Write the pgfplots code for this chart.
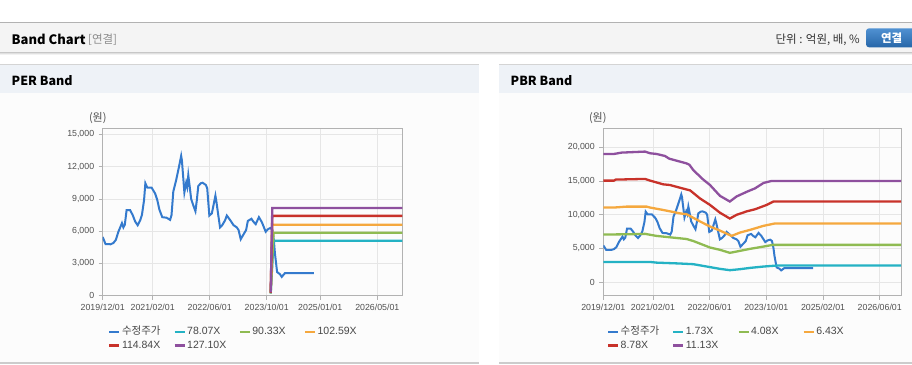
\documentclass[border=0pt]{standalone}
\usepackage{pgfplots}
\pgfplotsset{compat=1.18}
\usepackage{pgfplotstable}
\usepackage{fontspec}
\setmainfont{Liberation Sans}
\newfontfamily\kr{Noto Sans CJK KR}
\definecolor{cPrice}{RGB}{52,122,205}
\definecolor{cTeal}{RGB}{36,178,196}
\definecolor{cGreen}{RGB}{143,187,82}
\definecolor{cOrange}{RGB}{245,168,62}
\definecolor{cRed}{RGB}{200,50,42}
\definecolor{cPurple}{RGB}{142,80,158}
\definecolor{cGrid}{RGB}{230,230,230}
\definecolor{cFrame}{RGB}{178,178,178}
\definecolor{cTick}{RGB}{80,80,80}
\definecolor{cHead}{RGB}{244,244,244}
\definecolor{cPanelHead}{RGB}{238,242,247}
\definecolor{cPanelBody}{RGB}{252,252,252}

\pgfplotstableread{
m v
0 5450
0.8 4800
2.2 4780
3.0 4900
3.7 5200
4.4 5950
5.1 6500
5.4 6750
5.8 6350
6.2 6600
6.7 7950
7.7 7950
8.4 7500
9.1 6900
9.8 6550
10.5 7000
11.0 7500
11.6 8900
11.96 10450
12.5 10050
13.7 10050
14.7 9500
15.3 8900
15.9 8000
16.7 7300
17.9 7250
18.9 7050
19.3 7500
19.8 9700
20.6 10750
21.4 12000
22.0 13000
22.2 12600
22.6 10900
22.9 9600
23.4 10500
23.7 10100
24.0 11200
24.3 10400
24.8 9000
25.4 8400
26.0 7850
26.4 8900
26.8 10200
27.5 10450
28.0 10500
28.9 10300
29.3 10000
29.9 7450
30.6 7650
31.0 8300
31.6 9300
31.9 8700
32.4 7500
32.9 6350
33.5 6550
34.3 7000
34.8 7450
35.8 7000
36.7 6550
37.6 6350
38.1 6100
38.7 5250
39.4 5650
40.2 6100
40.7 6950
41.7 7150
42.2 6900
42.9 6650
43.8 7300
44.6 6850
45.7 5950
46.4 6200
47.1 6300
47.6 6100
48.0 5100
48.3 3900
48.9 2200
49.7 2000
50.2 1750
51.1 2100
59.2 2100
}\price

\pgfplotsset{bandaxis/.style={
  scale only axis, height=167.4pt,
  xmin=0, xmax=84,
  axis line style={cFrame, line width=0.9pt},
  grid=major, major grid style={cGrid, line width=0.7pt},
  tick style={cFrame, line width=0.7pt},
  tick align=outside, major tick length=4pt,
  xtick pos=bottom, ytick pos=left,
  ticklabel style={font=\fontsize{8.8}{10}\selectfont, text=cTick},
  x tick label style={yshift=-1pt},
  y tick label style={xshift=-1pt},
  /pgf/number format/assume math mode=true,
  /pgf/number format/1000 sep={,},
  scaled y ticks=false,
  legend columns=4,
  legend cell align=left,
  legend style={draw=none, fill=none, inner sep=0pt, outer sep=0pt,
    at={(axis description cs:0,0)}, anchor=north west,
    font=\fontsize{10.5}{12}\selectfont, text=black!72,
    /tikz/column sep=0pt,
    nodes={inner sep=1.5pt, text height=8pt, text depth=2.5pt, text width=50pt, align=left}},
  legend image code/.code={\draw[#1,line width=2.2pt] (0pt,0pt) -- (10pt,0pt);},
  every axis plot/.append style={line width=2.3pt, mark=none},
}}

\begin{document}
\begin{tikzpicture}
\begin{scope}[x=1pt,y=-1pt]
\fill[white] (0,0) rectangle (912,364);
% header bar
\fill[cHead] (0,22) rectangle (912,52);
\draw[black!30, line width=1.4pt] (0,22.3) -- (912,22.3);
\draw[black!22, line width=1pt] (0,52.5) -- (912,52.5);
\draw[black!12, line width=1pt] (0,53.5) -- (912,53.5);
\draw[black!5, line width=1pt] (0,54.5) -- (912,54.5);
% panels
\foreach \a/\b in {0/479,499/912}{
  \fill[cPanelHead] (\a,64.5) rectangle (\b,92.5);
  \draw[black!17, line width=1.2pt] (\a,64.6) -- (\b,64.6);
  \fill[cPanelBody] (\a,92.5) rectangle (\b,362);
  \fill[black!20] (\a,362.2) rectangle (\b,364);
}
\end{scope}

\begin{axis}[bandaxis, width=299.6pt, at={(102.7pt,-295.7pt)}, anchor=south west,
  ymin=0, ymax=15560, ytick={0,3000,...,15000},
  xtick={0,14,30,46,61,77},
  xticklabels={2019/12/01,2021/02/01,2022/06/01,2023/10/01,2025/01/01,2026/05/01},
  legend style={xshift=5.6pt, yshift=-29.5pt},
  legend entries={{\kr 수정주가},78.07X,90.33X,102.59X,114.84X,127.10X}]
\addplot[cPrice, line width=2pt] table[x=m,y=v] {\price};
\addplot[cTeal] coordinates {(47.1,200) (47.9,5100) (84,5100)};
\addplot[cGreen] coordinates {(47.1,220) (47.9,5850) (84,5850)};
\addplot[cOrange] coordinates {(47.1,250) (47.55,6600) (84,6600)};
\addplot[cRed] coordinates {(47.1,270) (47.55,7420) (84,7420)};
\addplot[cPurple] coordinates {(47.1,300) (47.55,8150) (84,8150)};
\end{axis}

\begin{axis}[bandaxis, width=297.7pt, at={(603.3pt,-295.7pt)}, anchor=south west,
  ymin=-2000, ymax=22800, ytick={0,5000,...,20000},
  xtick={0,14,30,46,62,78},
  xticklabels={2019/12/01,2021/02/01,2022/06/01,2023/10/01,2025/02/01,2026/06/01},
  legend style={xshift=3.7pt, yshift=-29.5pt},
  legend entries={{\kr 수정주가},1.73X,4.08X,6.43X,8.78X,11.13X}]
\addplot[cPrice, line width=2pt] table[x=m,y=v] {\price};
\addplot[cTeal] coordinates {(0,3000)(13.2,3000)(15,2900)(21.6,2770)(25.4,2670)(29.2,2320)(32.9,1980)(35.7,1780)(38.6,1930)(41.4,2120)(45.2,2320)(49,2470)(84,2470)};
\addplot[cGreen] coordinates {(0,7060)(6.6,7100)(11.8,7160)(15,6860)(19.8,6600)(23.5,6400)(25.4,6100)(30.1,5140)(32.9,4800)(35.7,4350)(37.6,4540)(41.4,4940)(45.2,5280)(47.8,5530)(84,5530)};
\addplot[cOrange] coordinates {(0,11060)(3,11060)(6.6,11200)(12.2,11200)(13.2,11060)(16.9,10700)(21.6,10200)(23.5,10070)(27.3,9000)(30.1,8250)(32.9,7650)(36.2,6860)(38.6,7360)(41.4,7750)(45.2,8350)(48.4,8700)(84,8700)};
\addplot[cRed] coordinates {(0,15050)(3,15050)(3.5,15200)(11.8,15300)(13.2,15050)(16.9,14500)(18.8,14400)(21.6,14000)(24.5,13600)(27.3,12400)(30.1,11450)(32.9,10300)(35.7,9430)(37.6,9980)(40.5,10500)(42.8,10800)(46.1,11450)(48,11950)(84,11950)};
\addplot[cPurple] coordinates {(0,19000)(3,19000)(5.2,19200)(11.8,19350)(13.2,19100)(15,19000)(17.4,18700)(18.6,18300)(23.5,17600)(24.3,17400)(25.4,16600)(28.2,15200)(30.1,14400)(32.9,12800)(35.7,11950)(37.6,12700)(40.5,13400)(42.8,13900)(45.2,14700)(47.5,15000)(84,15000)};
\end{axis}

\begin{scope}[x=1pt,y=-1pt]
\node[anchor=base west, inner sep=0pt, font=\kr\bfseries\fontsize{13}{15}\selectfont] at (11.5,44) {Band Chart};
\node[anchor=base west, inner sep=0pt, font=\kr\fontsize{11.5}{13}\selectfont, text=black!45] at (88,43.5) {[연결]};
\node[anchor=base east, inner sep=0pt, font=\kr\fontsize{11.5}{13}\selectfont, text=black!80] at (860,43.5) {단위 : 억원, 배, \%};
\shade[top color={rgb,255:red,80;green,145;blue,210}, bottom color={rgb,255:red,38;green,102;blue,168}, rounded corners=3pt] (866,28.3) rectangle (925,47.3);
\node[anchor=base, inner sep=0pt, font=\kr\bfseries\fontsize{11.5}{13}\selectfont, text=white] at (891.7,42.5) {연결};
\node[anchor=base west, inner sep=0pt, font=\kr\bfseries\fontsize{12.5}{15}\selectfont] at (11.5,85) {PER Band};
\node[anchor=base west, inner sep=0pt, font=\kr\bfseries\fontsize{12.5}{15}\selectfont] at (510.5,85) {PBR Band};
\node[inner sep=0pt, font=\kr\fontsize{11}{13}\selectfont, text=cTick] at (97.8,118.3) {(원)};
\node[inner sep=0pt, font=\kr\fontsize{11}{13}\selectfont, text=cTick] at (597.8,118.3) {(원)};
\end{scope}
\pgfresetboundingbox
\path[use as bounding box] (0pt,0pt) rectangle (912pt,-364pt);
\end{tikzpicture}
\end{document}
